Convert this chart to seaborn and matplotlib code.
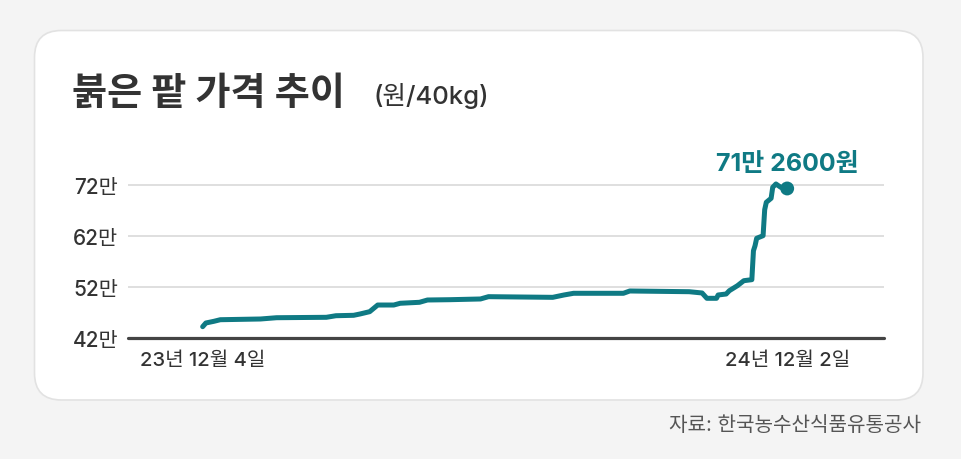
import pandas as pd
import seaborn as sns
import matplotlib.pyplot as plt
from matplotlib.patches import FancyBboxPatch

# price of red beans (won per 40kg)
dates = ['2023-12-04', '2023-12-06', '2023-12-11', '2023-12-15', '2024-01-09',
         '2024-01-19', '2024-02-19', '2024-02-25', '2024-03-07', '2024-03-11',
         '2024-03-17', '2024-03-22', '2024-04-01', '2024-04-05', '2024-04-17',
         '2024-04-22', '2024-05-06', '2024-05-25', '2024-05-30', '2024-07-09',
         '2024-07-16', '2024-07-22', '2024-08-22', '2024-08-26', '2024-10-02',
         '2024-10-10', '2024-10-13', '2024-10-19', '2024-10-20', '2024-10-25',
         '2024-10-27', '2024-11-01', '2024-11-05', '2024-11-10', '2024-11-11',
         '2024-11-12', '2024-11-13', '2024-11-17', '2024-11-18', '2024-11-19',
         '2024-11-22', '2024-11-23', '2024-11-25', '2024-11-28', '2024-12-01',
         '2024-12-02']
prices = [442700, 449900, 453200, 456300, 457700,
          460200, 461000, 464100, 464900, 467500,
          472000, 485000, 485000, 488400, 490300,
          494800, 495400, 496800, 501300, 500000,
          504600, 507900, 507900, 512400, 511000,
          508500, 498100, 498100, 504600, 506500,
          513000, 522700, 532500, 534500, 591000,
          600900, 615300, 620400, 671200, 685600,
          693400, 714900, 721400, 714900, 713000,
          712600]
y_ticks = [420000, 520000, 620000, 720000]
y_labels = ['42만', '52만', '62만', '72만']
x_ticks = ['2023-12-04', '2024-12-02']
x_labels = ['23년 12월 4일', '24년 12월 2일']

df = pd.DataFrame({'date': pd.to_datetime(dates), 'price': prices})

sns.set_style('white')
plt.rcParams['font.family'] = ['Inter', 'Noto Sans CJK KR', 'DejaVu Sans']

teal = '#0f7a84'
fig = plt.figure(figsize=(9.61, 4.60), dpi=100)
fig.patch.set_facecolor('#f4f4f4')

W, H = 961, 460
card = FancyBboxPatch((34.5 / W, 1 - 401 / H), (923 - 34.5) / W, (401 - 31.5) / H,
                      boxstyle='round,pad=0,rounding_size=0.028',
                      transform=fig.transFigure, facecolor='white',
                      edgecolor='#e2e2e2', linewidth=1.2, mutation_aspect=W / H,
                      zorder=-10)
fig.patches.append(card)

ax = fig.add_axes([128 / W, 1 - 339.3 / H, (884 - 128) / W, (339.3 - 150) / H])
ax.set_facecolor('none')

sns.lineplot(data=df, x='date', y='price', ax=ax, color=teal, linewidth=3.6,
             estimator=None, sort=False, solid_joinstyle='round',
             solid_capstyle='round', zorder=4)
sns.scatterplot(x=df['date'].iloc[-1:], y=df['price'].iloc[-1:], ax=ax,
                color=teal, s=100, edgecolor='none', zorder=5)

ax.set_ylim(420000, 789700)
ax.set_xlim(pd.Timestamp('2023-12-04') - pd.Timedelta(days=46.5),
            pd.Timestamp('2023-12-04') + pd.Timedelta(days=424.3))

for t in y_ticks[1:]:
    ax.axhline(t, color='#d9d9d9', linewidth=1.2, zorder=1)
ax.axhline(y_ticks[0], color='#444444', linewidth=2.3, zorder=2, clip_on=False)

ax.set_yticks(y_ticks)
ax.set_yticklabels(y_labels, fontsize=15, color='#333333', fontweight='medium')
ax.set_xticks(pd.to_datetime(x_ticks))
ax.set_xticklabels(x_labels, fontsize=14.5, color='#333333', fontweight='medium')
ax.tick_params(axis='both', length=0)
ax.tick_params(axis='y', pad=7)
ax.tick_params(axis='x', pad=9)
for s in ax.spines.values():
    s.set_visible(False)
ax.set_xlabel('')
ax.set_ylabel('')

ax.annotate('71만 2600원', xy=(pd.Timestamp(dates[-1]), prices[-1]),
            xytext=(0, 10), textcoords='offset points', ha='center', va='bottom',
            fontsize=18, fontweight='bold', color=teal)

fig.text(72 / W, 1 - 105 / H, '붉은 팥 가격 추이', fontsize=27.5, fontweight='bold',
         color='#333333', ha='left', va='baseline')
fig.text(374 / W, 1 - 104 / H, '(원/40kg)', fontsize=18.5, fontweight='medium',
         color='#333333', ha='left', va='baseline')
fig.text(921 / W, 1 - 431 / H, '자료: 한국농수산식품유통공사', fontsize=14.5,
         color='#555555', ha='right', va='baseline')

fig.savefig('out.png', dpi=100, facecolor=fig.get_facecolor())
